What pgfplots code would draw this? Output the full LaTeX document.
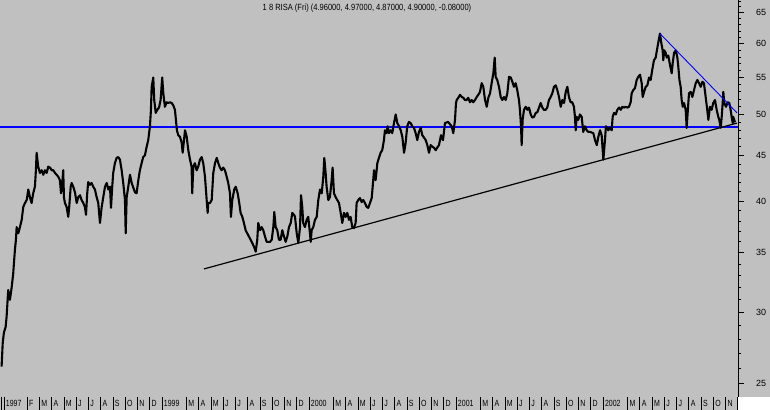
\documentclass[border=0pt]{standalone}
\usepackage{fontspec}
\setmainfont{Liberation Sans}
\newfontfamily\narrowfont[FakeStretch=0.78]{Liberation Sans}
\newfontfamily\titlefont[FakeStretch=0.84]{Liberation Sans}
\usepackage{pgfplots}
\pgfplotsset{compat=1.18}
\definecolor{bg}{RGB}{192,192,192}
\definecolor{pureblue}{RGB}{0,0,255}

\begin{document}
\begin{tikzpicture}
\useasboundingbox (0,0) rectangle (770bp,410bp);
\fill[bg] (0,0) rectangle (770bp,410bp);
\fill[white] (738bp,0) rectangle (770bp,13bp);
\begin{axis}[
  at={(0,13bp)}, anchor=south west,
  scale only axis, width=738bp, height=397bp,
  ymode=log, xmin=-1.22, xmax=59.02, ymin=24.13, ymax=67.17,
  clip mode=individual,
  axis y line*=right, axis x line*=bottom,
  x axis line style={draw=none},
  y axis line style={black, line width=0.8bp, -},
  ytick={25,30,35,40,45,50,55,60,65},
  yticklabels={25,30,35,40,45,50,55,60,65},
  minor ytick={26,27,28,29,31,32,33,34,36,37,38,39,41,42,43,44,46,47,48,49,51,52,53,54,56,57,58,59,61,62,63,64,66,67},
  ytick align=outside,
  major tick length=6bp, minor tick length=3bp,
  y tick style={black, line width=0.8bp},
  yticklabel style={font=\fontsize{9}{9}\selectfont, anchor=west, inner sep=0pt, xshift=12bp},
  xtick={-0.9,1,2,3,4,5,6,7,8,9,10,11,12,14,15,16,17,18,19,20,21,22,23,24,26,27,28,29,30,31,32,33,34,35,36,38,39,40,41,42,43,44,45,46,47,48,50,51,52,53,54,55,56,57,58},
  xticklabels={1997,F,M,A,M,J,J,A,S,O,N,D,1999,M,A,M,J,J,A,S,O,N,D,2000,M,A,M,J,J,A,S,O,N,D,2001,M,A,M,J,J,A,S,O,N,D,2002,M,A,M,J,J,A,S,O,N},
  x tick style={draw=none},
  xticklabel style={font=\narrowfont\fontsize{9}{9}\selectfont, anchor=north west, inner sep=0pt, xshift=1.8bp, yshift=-3bp},
]
% blue horizontal support line
\addplot[pureblue, line width=1.6bp] coordinates {(-1.22,48.4) (59.02,48.4)};
% price series (daily bars traced as a line)
\addplot[black, line width=2.1bp, line join=round] coordinates {
(-1.09,26.1)(-1.00,27.7)(-0.90,28.5)(-0.76,28.9)(-0.68,29.7)(-0.55,31.8)(-0.41,31.0)(-0.27,32.0)(-0.14,33.2)(-0.06,34.4)
(0.00,35.3)(0.08,36.2)(0.14,37.4)(0.27,36.8)(0.41,37.4)(0.55,38.1)(0.68,39.4)(0.82,39.8)(0.96,40.1)(1.09,41.2)
(1.22,40.4)(1.36,39.8)(1.49,40.8)(1.63,41.5)(1.71,43.3)(1.77,45.3)(1.90,43.7)(2.04,43.0)(2.18,43.3)(2.31,42.8)
(2.45,43.3)(2.59,43.0)(2.72,43.7)(2.86,43.6)(3.00,43.3)(3.13,43.3)(3.27,43.0)(3.40,42.8)(3.53,42.6)(3.67,42.2)
(3.76,40.8)(3.84,41.5)(3.94,43.3)(4.00,40.4)(4.08,39.8)(4.22,39.4)(4.35,38.4)(4.43,39.4)(4.55,41.5)(4.63,41.9)
(4.76,41.5)(4.90,40.9)(5.04,39.8)(5.17,40.4)(5.31,40.6)(5.44,40.1)(5.58,39.8)(5.71,39.4)(5.80,38.6)(5.90,40.8)
(5.98,42.0)(6.12,41.7)(6.26,41.9)(6.39,41.5)(6.53,41.2)(6.67,40.4)(6.80,39.8)(6.94,37.8)(7.08,39.4)(7.21,40.4)
(7.35,41.5)(7.49,41.9)(7.62,41.2)(7.76,41.5)(7.84,39.3)(7.94,41.5)(8.02,43.0)(8.16,44.1)(8.30,44.7)(8.43,44.8)
(8.57,44.5)(8.71,43.3)(8.84,41.9)(8.98,40.1)(9.04,36.8)(9.12,40.4)(9.25,41.5)(9.39,42.8)(9.53,41.9)(9.66,41.4)
(9.80,40.9)(9.93,40.8)(10.07,42.2)(10.20,43.3)(10.34,44.1)(10.47,44.8)(10.61,45.0)(10.75,46.0)(10.88,46.8)(11.02,48.5)
(11.10,50.6)(11.16,53.7)(11.29,55.0)(11.37,51.9)(11.49,50.2)(11.62,50.6)(11.76,50.9)(11.89,51.9)(12.02,55.0)(12.11,52.8)
(12.24,51.0)(12.38,51.6)(12.51,51.5)(12.65,51.6)(12.79,51.5)(12.92,51.2)(13.06,50.6)(13.14,49.3)(13.22,48.0)(13.33,47.4)
(13.47,47.2)(13.61,46.5)(13.69,45.3)(13.80,46.8)(13.88,48.0)(14.02,47.2)(14.15,45.6)(14.29,44.5)(14.42,43.7)(14.47,40.8)
(14.56,43.7)(14.69,44.1)(14.83,43.3)(14.96,43.7)(15.10,44.5)(15.24,44.8)(15.37,44.1)(15.51,42.6)(15.65,40.1)(15.73,38.8)
(15.78,39.8)(15.92,39.8)(16.06,40.1)(16.19,43.0)(16.33,44.1)(16.47,44.7)(16.60,44.1)(16.73,43.6)(16.87,43.3)(17.00,43.6)
(17.14,43.3)(17.28,42.6)(17.41,41.9)(17.55,40.8)(17.63,38.4)(17.74,40.1)(17.90,41.2)(18.02,41.5)(18.18,40.8)(18.31,39.8)
(18.42,38.8)(18.56,38.4)(18.69,37.8)(18.83,37.1)(18.96,36.8)(19.10,36.5)(19.24,36.2)(19.37,35.9)(19.53,35.5)(19.65,35.1)
(19.78,36.2)(19.86,37.8)(20.00,37.1)(20.14,37.4)(20.27,37.1)(20.41,36.5)(20.55,36.0)(20.68,36.0)(20.82,36.0)(20.96,36.2)
(21.09,37.4)(21.17,38.9)(21.28,37.4)(21.41,37.1)(21.55,36.2)(21.69,36.2)(21.82,37.1)(21.96,36.5)(22.10,36.0)(22.23,36.5)
(22.37,37.4)(22.51,37.8)(22.64,38.8)(22.78,38.6)(22.86,38.4)(23.00,36.8)(23.13,35.9)(23.27,37.4)(23.35,40.6)(23.45,39.4)
(23.53,37.8)(23.67,37.4)(23.81,38.1)(23.94,38.4)(24.08,36.8)(24.14,36.0)(24.22,37.1)(24.35,37.4)(24.49,38.1)(24.63,38.4)
(24.76,40.1)(24.90,41.2)(25.04,40.8)(25.17,42.6)(25.25,44.7)(25.36,43.0)(25.44,41.5)(25.58,40.1)(25.71,40.4)(25.85,42.2)
(25.93,43.6)(26.04,40.8)(26.18,40.4)(26.31,40.1)(26.45,39.8)(26.59,38.8)(26.72,37.8)(26.86,38.8)(27.00,38.4)(27.13,38.8)
(27.27,38.1)(27.40,38.4)(27.53,37.4)(27.67,37.3)(27.81,37.8)(27.89,39.8)(28.02,40.1)(28.16,40.3)(28.30,39.9)(28.43,40.1)
(28.57,39.8)(28.71,39.4)(28.84,39.3)(28.98,39.8)(29.12,40.3)(29.20,41.5)(29.31,43.3)(29.44,42.2)(29.58,44.1)(29.71,44.7)
(29.85,45.3)(29.98,45.6)(30.12,46.8)(30.20,48.0)(30.34,47.65)(30.42,48.5)(30.53,47.65)(30.67,48.0)(30.80,47.65)(30.94,48.9)
(31.08,50.0)(31.21,48.9)(31.35,48.5)(31.49,48.0)(31.62,47.2)(31.76,45.3)(31.89,46.45)(32.02,48.5)(32.16,49.05)(32.30,48.9)
(32.43,48.5)(32.57,48.3)(32.71,47.65)(32.84,46.8)(32.98,47.8)(33.12,48.3)(33.25,47.4)(33.39,47.1)(33.53,46.8)(33.66,46.2)
(33.80,45.3)(33.93,46.2)(34.07,46.0)(34.20,45.9)(34.34,45.6)(34.47,45.9)(34.61,46.2)(34.78,47.4)(34.94,46.8)(35.10,48.9)
(35.35,49.05)(35.65,48.5)(35.78,47.65)(35.92,49.3)(36.00,51.5)(36.06,51.9)(36.19,52.2)(36.33,52.6)(36.47,52.3)(36.60,52.2)
(36.73,51.9)(36.87,51.9)(37.00,52.2)(37.14,51.6)(37.28,51.9)(37.41,51.6)(37.55,51.9)(37.69,52.3)(37.82,52.6)(37.96,53.0)
(38.10,54.2)(38.23,53.7)(38.37,51.9)(38.51,51.0)(38.64,52.2)(38.78,52.8)(38.91,54.2)(39.05,55.6)(39.16,57.9)(39.24,55.1)
(39.37,54.65)(39.51,53.7)(39.65,52.3)(39.78,51.9)(39.92,52.3)(40.06,51.9)(40.19,52.8)(40.33,55.1)(40.47,55.0)(40.60,54.4)
(40.73,53.7)(40.87,54.2)(41.00,53.25)(41.14,51.9)(41.22,50.6)(41.31,48.5)(41.36,46.2)(41.44,49.3)(41.55,50.6)(41.69,51.0)
(41.82,50.6)(41.96,50.9)(42.10,50.0)(42.23,49.6)(42.37,49.7)(42.51,50.2)(42.64,50.3)(42.78,50.9)(42.91,51.5)(43.05,50.9)
(43.18,50.6)(43.32,50.6)(43.45,50.9)(43.59,51.9)(43.73,52.3)(43.86,52.8)(44.00,53.7)(44.14,53.9)(44.27,53.25)(44.41,52.3)
(44.55,51.0)(44.68,51.9)(44.82,51.5)(44.96,53.0)(45.09,53.7)(45.22,52.3)(45.36,51.6)(45.49,51.6)(45.63,51.0)(45.71,49.7)
(45.77,48.0)(45.85,49.7)(45.98,49.3)(46.12,50.0)(46.26,49.7)(46.39,47.8)(46.53,48.5)(46.67,48.0)(46.80,47.8)(46.94,47.8)
(47.21,47.65)(47.35,46.8)(47.49,46.2)(47.62,47.2)(47.76,48.0)(47.89,47.4)(48.03,44.5)(48.16,46.8)(48.24,48.5)(48.35,48.3)
(48.43,48.0)(48.57,48.3)(48.71,48.0)(48.79,49.7)(48.90,50.2)(49.04,50.0)(49.17,50.6)(49.31,50.9)(49.45,50.6)(49.58,51.0)
(49.71,50.9)(49.85,51.0)(49.98,50.9)(50.12,51.0)(50.26,51.6)(50.34,52.8)(50.47,53.25)(50.61,53.5)(50.75,54.65)(50.88,55.1)
(51.02,55.4)(51.16,54.2)(51.24,52.3)(51.35,53.0)(51.49,53.7)(51.62,53.9)(51.76,55.0)(51.89,54.65)(52.02,56.1)(52.16,57.5)
(52.30,57.9)(52.43,59.3)(52.55,60.6)(52.65,61.6)(52.76,60.1)(52.87,59.0)(52.92,57.5)(53.00,59.0)(53.12,58.6)(53.20,57.9)
(53.33,58.2)(53.47,56.8)(53.61,55.6)(53.69,57.1)(53.80,58.6)(53.94,59.0)(54.07,57.9)(54.15,56.5)(54.24,54.65)(54.34,53.7)
(54.42,51.9)(54.51,51.0)(54.61,51.5)(54.75,50.6)(54.83,48.3)(54.91,50.2)(55.02,52.8)(55.16,53.0)(55.29,52.3)(55.43,53.25)
(55.57,54.2)(55.70,54.65)(55.84,54.2)(55.98,53.7)(56.11,54.4)(56.24,54.2)(56.38,52.3)(56.51,50.6)(56.60,49.3)(56.73,51.0)
(56.87,50.6)(57.00,51.5)(57.14,51.9)(57.28,50.6)(57.41,49.7)(57.49,49.3)(57.61,48.3)(57.69,49.7)(57.77,51.5)(57.82,53.0)
(57.90,51.5)(58.04,51.0)(58.18,51.6)(58.31,51.5)(58.42,50.6)(58.50,49.7)(58.59,48.9)(58.63,49.7)(58.78,49.0)
};
% rising support trend line
\addplot[black, line width=1.2bp] coordinates {(15.43,33.57) (58.94,48.9)};
% falling resistance trend line
\addplot[pureblue, line width=0.9bp] coordinates {(52.65,61.6) (58.94,50.2)};
% month separators in the bottom strip
\pgfplotsinvokeforeach{-1.14,-0.9,1,2,3,4,5,6,7,8,9,10,11,12,14,15,16,17,18,19,20,21,22,23,24,26,27,28,29,30,31,32,33,34,35,36,38,39,40,41,42,43,44,45,46,47,48,50,51,52,53,54,55,56,57,58,59}{
  \draw[black, line width=0.8bp] (axis cs:#1,24.13) -- ([yshift=-13bp]axis cs:#1,24.13);
}
\end{axis}
\node[font=\titlefont\fontsize{9}{9}\selectfont, anchor=center] at (367bp,402bp) {1 8 RISA (Fri) (4.96000, 4.97000, 4.87000, 4.90000, -0.08000)};
\end{tikzpicture}
\end{document}
